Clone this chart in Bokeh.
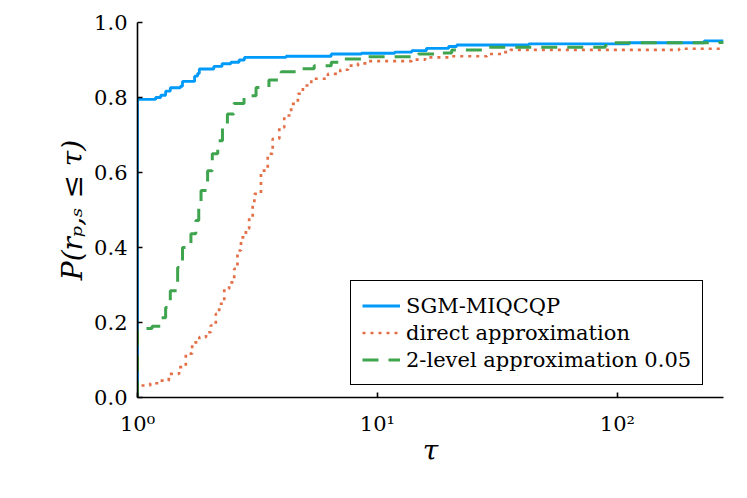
from bokeh.plotting import figure
from bokeh.models import FixedTicker, PrintfTickFormatter, Range1d, Legend, LegendItem
from bokeh.embed import file_html
from bokeh.resources import INLINE

# ---- data ----
sgm_tau = [1, 1, 1.19, 1.25, 1.31, 1.37, 1.51, 1.54, 1.73, 1.78, 1.81, 2.08, 2.25, 2.45,
           2.65, 2.79, 4.16, 6.42, 8.57, 11.8, 13.9, 16.0, 19.8, 21.4, 42.7, 112, 230, 277]
sgm_p = [0, 0.795, 0.800, 0.806, 0.817, 0.826, 0.830, 0.843, 0.857, 0.864, 0.876, 0.883,
         0.890, 0.894, 0.900, 0.907, 0.910, 0.916, 0.918, 0.921, 0.925, 0.931, 0.936,
         0.940, 0.943, 0.946, 0.951, 0.951]

direct_tau = [1, 1, 1.13, 1.23, 1.35, 1.49, 1.59, 1.69, 1.81, 1.93, 2.02, 2.12, 2.19, 2.30,
              2.41, 2.53, 2.61, 2.70, 2.83, 2.92, 3.02, 3.07, 3.27, 3.49, 3.66, 3.90, 4.09,
              4.37, 4.66, 4.89, 5.30, 6.22, 7.0, 7.54, 8.3, 9.14, 13.9, 15.8, 20.4, 28.6,
              33.0, 35.8, 181, 277]
direct_p = [0, 0.032, 0.038, 0.045, 0.063, 0.081, 0.117, 0.147, 0.161, 0.174, 0.192, 0.223,
            0.250, 0.290, 0.307, 0.343, 0.392, 0.427, 0.450, 0.480, 0.516, 0.543, 0.605,
            0.650, 0.690, 0.720, 0.752, 0.783, 0.810, 0.832, 0.850, 0.863, 0.874, 0.885,
            0.891, 0.897, 0.901, 0.907, 0.910, 0.916, 0.921, 0.927, 0.930, 0.930]

two_tau = [1, 1, 1.15, 1.25, 1.31, 1.37, 1.47, 1.54, 1.67, 1.75, 1.80, 1.84, 1.96, 2.05,
           2.16, 2.26, 2.37, 2.52, 2.78, 3.12, 3.53, 3.97, 4.72, 5.45, 6.42, 7.28, 8.85,
           14.8, 17.9, 20.4, 29.0, 89, 94, 266, 277]
two_p = [0, 0.184, 0.190, 0.213, 0.240, 0.285, 0.347, 0.400, 0.437, 0.472, 0.520, 0.552,
         0.605, 0.650, 0.685, 0.720, 0.756, 0.784, 0.805, 0.827, 0.847, 0.869, 0.877,
         0.885, 0.894, 0.903, 0.909, 0.916, 0.919, 0.927, 0.934, 0.939, 0.946, 0.947, 0.948]

x_ticks = [1, 10, 100]
x_tick_labels = ["10\u2070", "10\u00b9", "10\u00b2"]
y_ticks = [0.0, 0.2, 0.4, 0.6, 0.8, 1.0]
labels = ["SGM-MIQCQP", "direct approximation", "2-level approximation 0.05"]
colors = ["#009AFA", "#E36F47", "#3EA44E"]

FONT = "DejaVu Serif"

p = figure(width=739, height=490, x_axis_type="log",
           x_range=Range1d(1, 277), y_range=Range1d(0, 1),
           output_backend="svg", toolbar_location=None,
           min_border_left=137, min_border_right=16, min_border_top=22, min_border_bottom=93)
p.outline_line_color = None
p.xgrid.visible = False
p.ygrid.visible = False
p.background_fill_color = "white"
p.border_fill_color = "white"

r1 = p.step(sgm_tau, sgm_p, mode="after", line_color=colors[0], line_width=2.8)
r2 = p.step(direct_tau, direct_p, mode="after", line_color=colors[1], line_width=2.7,
            line_dash="3 5")
r3 = p.step(two_tau, two_p, mode="after", line_color=colors[2], line_width=3.0,
            line_dash="16 10")

for ax in (p.xaxis[0], p.yaxis[0]):
    ax.axis_line_width = 1.6
    ax.axis_line_color = "black"
    ax.major_tick_in = 5
    ax.major_tick_out = 0
    ax.major_tick_line_width = 1.6
    ax.minor_tick_line_color = None
    ax.major_label_text_font = FONT
    ax.major_label_text_font_size = "21px"
    ax.major_label_text_color = "black"
    ax.axis_label_text_font = FONT
    ax.axis_label_text_font_style = "italic"
    ax.axis_label_text_font_size = "28px"
    ax.axis_label_text_color = "black"

p.xaxis.ticker = FixedTicker(ticks=x_ticks)
p.xaxis.major_label_overrides = {t: s for t, s in zip(x_ticks, x_tick_labels)}
p.xaxis.major_label_standoff = 14
p.xaxis.axis_label = "\u03c4"
p.xaxis.axis_label_standoff = -5

p.yaxis.ticker = FixedTicker(ticks=y_ticks)
p.yaxis.formatter = PrintfTickFormatter(format="%.1f")
p.yaxis.major_label_standoff = 10
p.yaxis.axis_label = "P(r\u209a,\u209b \u2264 \u03c4)"
p.yaxis.axis_label_standoff = 2

legend = Legend(items=[LegendItem(label=labels[0], renderers=[r1]),
                       LegendItem(label=labels[1], renderers=[r2]),
                       LegendItem(label=labels[2], renderers=[r3])],
                location=(213, 12))
legend.label_text_font = FONT
legend.label_text_font_size = "21px"
legend.label_text_color = "black"
legend.border_line_color = "black"
legend.border_line_alpha = 1.0
legend.border_line_width = 1.6
legend.background_fill_color = "white"
legend.background_fill_alpha = 1.0
legend.glyph_width = 38
legend.glyph_height = 27
legend.label_height = 27
legend.label_standoff = 6
legend.padding = 11
legend.spacing = 0
legend.margin = 0
p.add_layout(legend)

open("out.html", "w").write(file_html(p, INLINE))
